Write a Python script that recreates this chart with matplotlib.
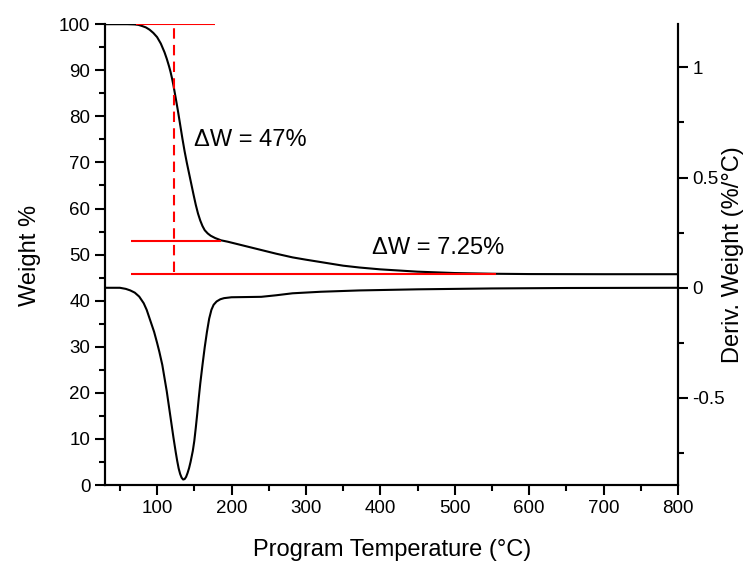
import matplotlib.pyplot as plt
from matplotlib.ticker import MultipleLocator

plt.rcParams['font.family'] = ['Liberation Sans', 'DejaVu Sans']

# TGA weight curve (temperature in °C, weight %)
temp_w = [30, 60, 70, 75, 80, 85, 90, 95, 100, 105, 110, 113, 116, 118, 120,
          122, 125, 128, 131, 134, 137, 140, 143, 146, 149, 152, 155, 158, 161,
          164, 168, 172, 178, 186, 195, 210, 225, 240, 260, 282, 300, 327, 350,
          372, 400, 450, 500, 550, 600, 700, 800]
weight = [100, 100, 99.95, 99.85, 99.6, 99.3, 98.8, 98.1, 97.2, 95.8, 93.9,
          92.5, 90.9, 89.7, 88.3, 86.7, 84.0, 81.2, 78.2, 75.2, 72.4, 69.9,
          67.6, 65.3, 63.0, 60.8, 58.9, 57.4, 56.2, 55.3, 54.6, 54.1, 53.6,
          53.1, 52.8, 52.2, 51.6, 51.0, 50.2, 49.4, 48.9, 48.2, 47.6, 47.2,
          46.8, 46.3, 46.0, 45.85, 45.78, 45.75, 45.75]

# DTG curve (%/°C)
temp_d = [30, 50, 58, 64, 70, 76, 82, 86, 89, 93, 96, 100, 103, 107, 110, 113,
          116, 119, 122, 125, 127, 129, 131, 133, 135, 137, 139, 141, 143, 145,
          148, 150, 152, 154, 156, 158, 161, 164, 167, 170, 173, 176, 180, 185,
          190, 200, 220, 240, 260, 282, 320, 372, 450, 550, 650, 800]
deriv = [0, 0, -0.005, -0.012, -0.022, -0.04, -0.07, -0.1, -0.13, -0.17, -0.2,
         -0.25, -0.29, -0.35, -0.41, -0.47, -0.54, -0.61, -0.68, -0.745,
         -0.785, -0.82, -0.845, -0.862, -0.87, -0.868, -0.858, -0.84, -0.818,
         -0.79, -0.74, -0.695, -0.635, -0.57, -0.5, -0.435, -0.35, -0.27,
         -0.2, -0.14, -0.1, -0.077, -0.062, -0.052, -0.047, -0.043, -0.042,
         -0.041, -0.034, -0.025, -0.018, -0.012, -0.007, -0.003, -0.001, 0]

# step markers
w_start, w_mid, w_end = 100, 53, 45.75
t_mark = 123

fig = plt.figure(figsize=(7.5, 5.63), dpi=100)
ax = fig.add_axes([0.14, 0.1385, 0.764, 0.8185])
ax2 = ax.twinx()

ax.plot(temp_w, weight, color='black', lw=1.5)
ax2.plot(temp_d, deriv, color='black', lw=1.5)

# red guide lines
ax.hlines(w_start, 71, 178, color='red', lw=1.5)
ax.hlines(w_mid, 65, 186, color='red', lw=1.5)
ax.hlines(w_end, 65, 556, color='red', lw=1.5)
ax.vlines(t_mark, 46.3, w_start, color='red', lw=1.5, linestyles=(0, (5, 3)))

ax.text(150, 74.8, 'ΔW = 47%', fontsize=17, va='center')
ax.text(389, 51.4, 'ΔW = 7.25%', fontsize=17, va='center')

ax.set_xlim(30, 800)
ax.set_ylim(0, 100)
ax2.set_ylim(-0.895, 1.196)

ax.set_xticks(range(100, 801, 100))
ax.xaxis.set_minor_locator(MultipleLocator(50))
ax.yaxis.set_major_locator(MultipleLocator(10))
ax.yaxis.set_minor_locator(MultipleLocator(5))
ax2.set_yticks([-0.5, 0, 0.5, 1])
ax2.set_yticklabels(['-0.5', '0', '0.5', '1'])
ax2.yaxis.set_minor_locator(MultipleLocator(0.25))

for a in (ax, ax2):
    a.spines['top'].set_visible(False)
    for s in a.spines.values():
        s.set_linewidth(1.5)
    a.tick_params(which='major', length=7, width=1.5, labelsize=13.5, direction='out')
    a.tick_params(which='minor', length=4, width=1.5, direction='out')

# axis titles
fig.text(392 / 750, 1 - 550 / 563, 'Program Temperature (°C)', fontsize=17,
         ha='center', va='center')
fig.text(30 / 750, 1 - 255 / 563, 'Weight %', fontsize=17, rotation=90,
         ha='center', va='center')
fig.text(733 / 750, 1 - 255 / 563, 'Deriv. Weight (%/°C)', fontsize=17,
         rotation=90, ha='center', va='center')

fig.savefig('out.png', dpi=100)
